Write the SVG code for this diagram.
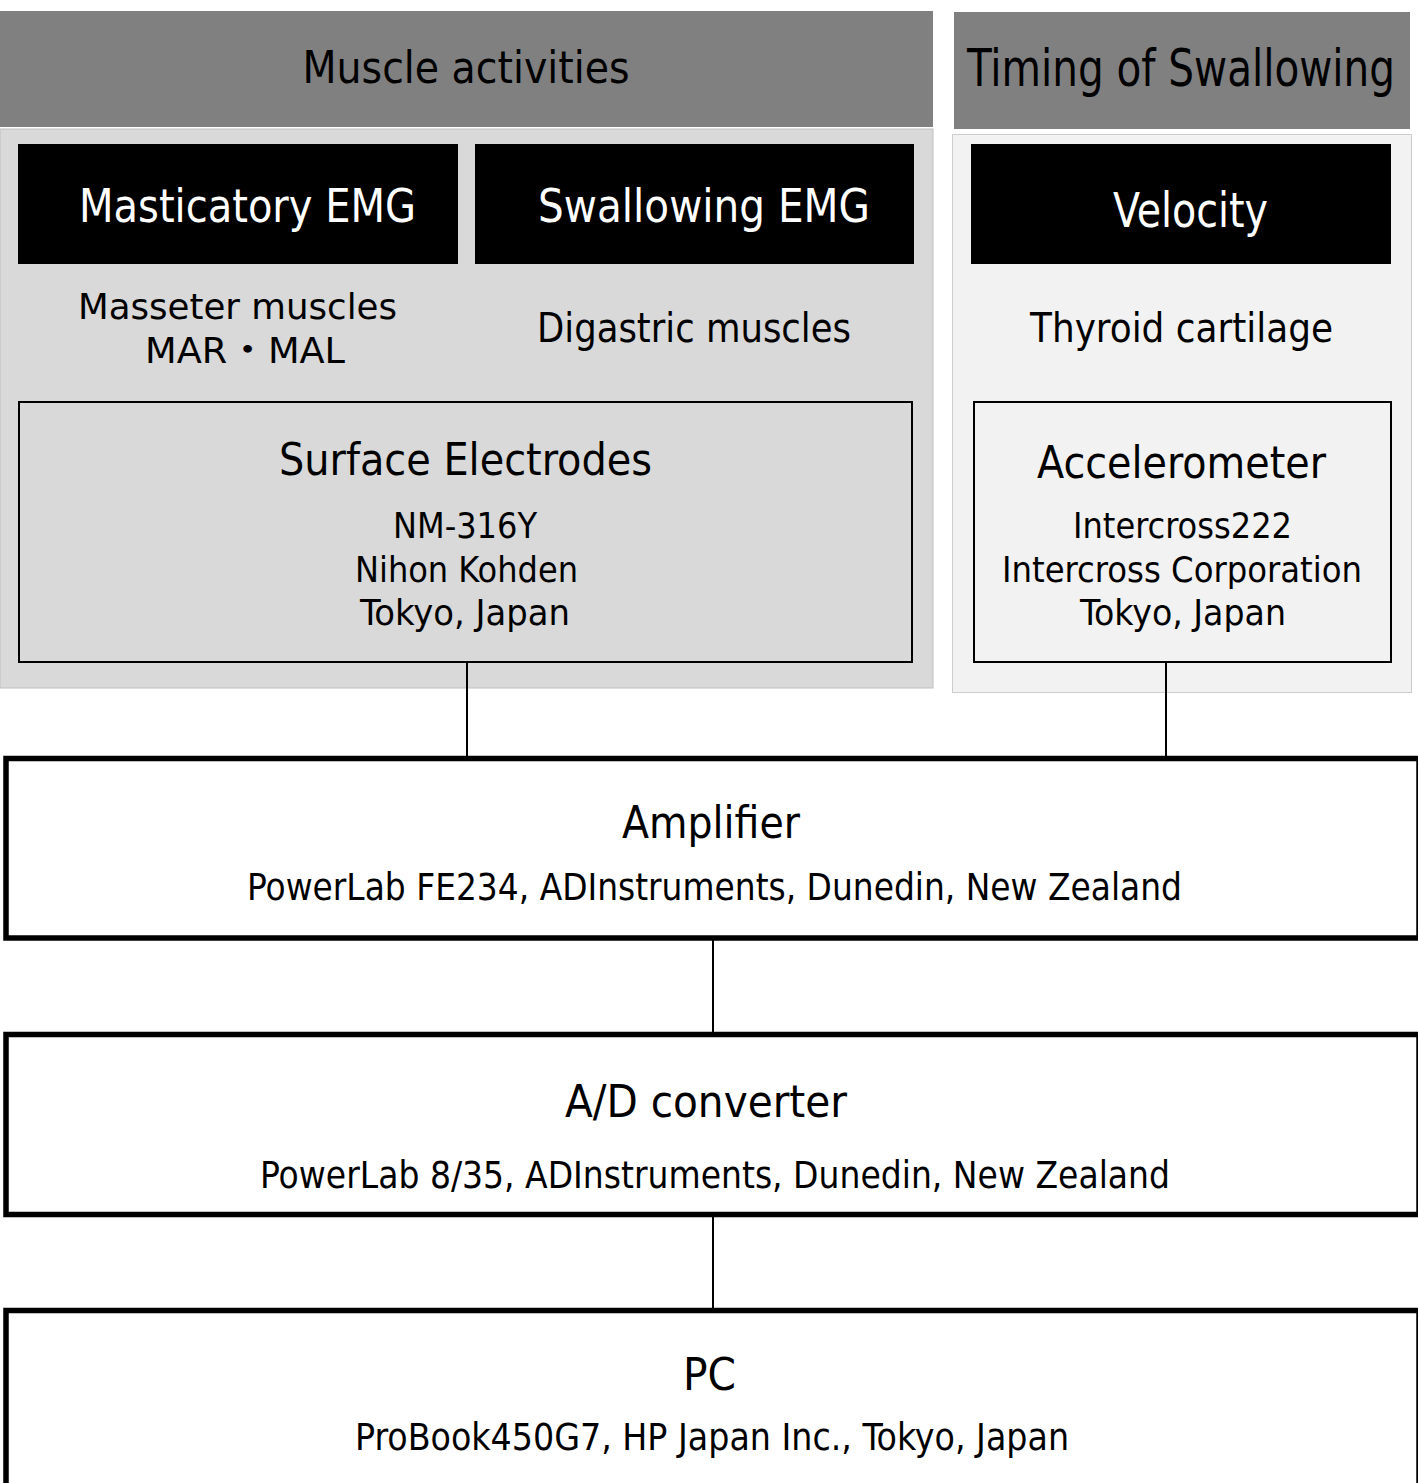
<svg xmlns="http://www.w3.org/2000/svg" width="1418" height="1483" viewBox="0 0 1418 1483">
<style>
text{font-family:"DejaVu Sans Condensed","DejaVu Sans","Noto Sans CJK JP",sans-serif;text-anchor:middle;fill:#000}
.hdr{fill:#808080}
.blk{fill:#000}
.wt{fill:#fff}
.sub{fill:none;stroke:#000;stroke-width:2}
.big{fill:#fff;stroke:#000;stroke-width:5.5}
.con{stroke:#000;stroke-width:2;fill:none}
</style>
<rect width="1418" height="1483" fill="#fff"/>
<g id="muscle-activities">
<rect x="0" y="129" width="933" height="559" fill="#d9d9d9" stroke="#bfbfbf" stroke-width="1"/>
<rect class="hdr" x="0" y="11" width="933" height="116"/>
<text x="466" y="83" font-size="45" textLength="327" lengthAdjust="spacingAndGlyphs">Muscle activities</text>
</g>
<g id="timing-of-swallowing">
<rect x="952.5" y="134.5" width="459" height="558" fill="#f2f2f2" stroke="#cccccc" stroke-width="1"/>
<rect class="hdr" x="954" y="12" width="456" height="117"/>
<text x="1181" y="86" font-size="51" textLength="428" lengthAdjust="spacingAndGlyphs">Timing of Swallowing</text>
</g>
<g id="masticatory-emg">
<rect class="blk" x="18" y="144" width="440" height="120"/>
<text class="wt" x="247.5" y="222" font-size="47" textLength="337" lengthAdjust="spacingAndGlyphs">Masticatory EMG</text>
</g>
<g id="swallowing-emg">
<rect class="blk" x="475" y="144" width="439" height="120"/>
<text class="wt" x="704" y="222" font-size="47" textLength="332" lengthAdjust="spacingAndGlyphs">Swallowing EMG</text>
</g>
<g id="velocity">
<rect class="blk" x="971" y="144" width="420" height="120"/>
<text class="wt" x="1190.5" y="227" font-size="48" textLength="155" lengthAdjust="spacingAndGlyphs">Velocity</text>
</g>
<g id="masseter">
<text x="237.5" y="319" font-size="36" textLength="319" lengthAdjust="spacingAndGlyphs">Masseter muscles</text>
<text x="245" y="363" font-size="36" textLength="200" lengthAdjust="spacingAndGlyphs">MAR・MAL</text>
</g>
<g id="digastric">
<text x="694" y="342" font-size="41" textLength="314" lengthAdjust="spacingAndGlyphs">Digastric muscles</text>
</g>
<g id="thyroid">
<text x="1181.5" y="342" font-size="40" textLength="303" lengthAdjust="spacingAndGlyphs">Thyroid cartilage</text>
</g>
<g id="surface-electrodes">
<rect class="sub" x="19" y="402" width="893" height="260" fill="#d9d9d9"/>
<text x="465.5" y="475" font-size="45" textLength="373" lengthAdjust="spacingAndGlyphs">Surface Electrodes</text>
<text x="465" y="538" font-size="35" textLength="144" lengthAdjust="spacingAndGlyphs">NM-316Y</text>
<text x="466.5" y="582" font-size="35" textLength="223" lengthAdjust="spacingAndGlyphs">Nihon Kohden</text>
<text x="465" y="625" font-size="35" textLength="210" lengthAdjust="spacingAndGlyphs">Tokyo, Japan</text>
</g>
<g id="accelerometer">
<rect x="974" y="402" width="417" height="260" fill="#f2f2f2" stroke="#000" stroke-width="2"/>
<text x="1181.5" y="478" font-size="45" textLength="289" lengthAdjust="spacingAndGlyphs">Accelerometer</text>
<text x="1182.5" y="538" font-size="35" textLength="219" lengthAdjust="spacingAndGlyphs">Intercross222</text>
<text x="1182" y="582" font-size="35" textLength="360" lengthAdjust="spacingAndGlyphs">Intercross Corporation</text>
<text x="1183" y="625" font-size="35" textLength="206" lengthAdjust="spacingAndGlyphs">Tokyo, Japan</text>
</g>
<g id="connectors">
<line class="con" x1="467" y1="662" x2="467" y2="757"/>
<line class="con" x1="1166" y1="662" x2="1166" y2="757"/>
<line class="con" x1="713" y1="938" x2="713" y2="1034"/>
<line class="con" x1="713" y1="1214" x2="713" y2="1310"/>
</g>
<g id="amplifier">
<rect class="big" x="6" y="758.5" width="1413" height="179.5"/>
<text x="711" y="838" font-size="45" textLength="178" lengthAdjust="spacingAndGlyphs">Amplifier</text>
<text x="714.5" y="900" font-size="37" textLength="935" lengthAdjust="spacingAndGlyphs">PowerLab FE234, ADInstruments, Dunedin, New Zealand</text>
</g>
<g id="ad-converter">
<rect class="big" x="6" y="1034.5" width="1413" height="180"/>
<text x="706" y="1117" font-size="45" textLength="282" lengthAdjust="spacingAndGlyphs">A/D converter</text>
<text x="715" y="1188" font-size="37" textLength="910" lengthAdjust="spacingAndGlyphs">PowerLab 8/35, ADInstruments, Dunedin, New Zealand</text>
</g>
<g id="pc">
<rect class="big" x="6" y="1310.5" width="1413" height="300"/>
<text x="709.5" y="1390" font-size="45" textLength="53" lengthAdjust="spacingAndGlyphs">PC</text>
<text x="712" y="1450" font-size="37" textLength="714" lengthAdjust="spacingAndGlyphs">ProBook450G7, HP Japan Inc., Tokyo, Japan</text>
</g>
</svg>
